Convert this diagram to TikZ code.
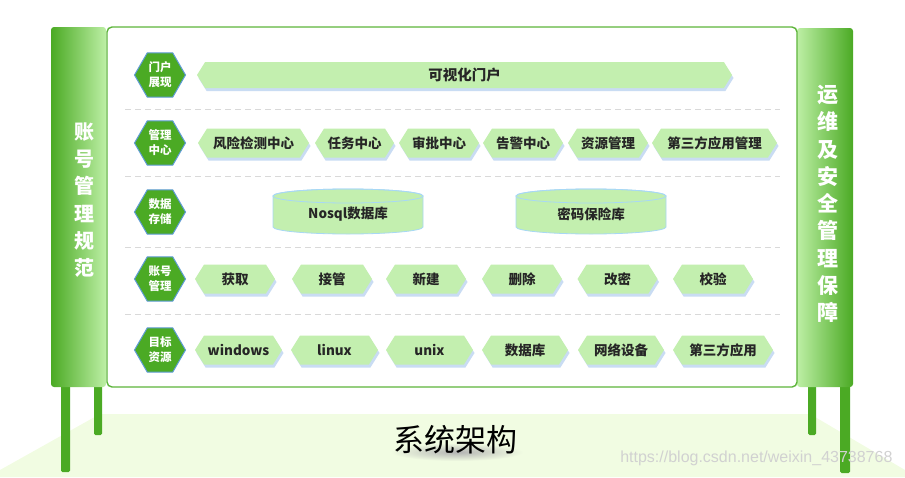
\documentclass[tikz,border=0pt]{standalone}
\usepackage{fontspec}
\setmainfont{Noto Sans CJK SC}
\newfontfamily\urlfont{Liberation Sans}
\usetikzlibrary{shapes.geometric,shapes.symbols,shadows}
\definecolor{leafgreen}{HTML}{4BAA24}
\definecolor{palegreen}{HTML}{C3EFAF}
\definecolor{lightgreen}{HTML}{BDEFA5}
\definecolor{hexblue}{HTML}{5E9BD6}
\definecolor{shadowblue}{HTML}{C9DCF3}
\definecolor{floorgreen}{HTML}{F1FCE2}
\definecolor{rulegray}{HTML}{D9D9D9}
\definecolor{cylblue}{HTML}{A8D8F5}
\definecolor{boardgreen}{HTML}{5DB53A}
% storage drum: (x,y) name text
\def\drum(#1,#2)#3#4{%
  \filldraw[fill=palegreen, draw=cylblue, line width=0.8pt] (#1-75,#2+16) -- (#1-75,#2-15)
    arc[start angle=180, end angle=360, x radius=75, y radius=7] -- (#1+75,#2+16)
    arc[start angle=0, end angle=180, x radius=75, y radius=7] -- cycle;
  \draw[cylblue, line width=0.8pt] (#1,#2+16) ellipse [x radius=75, y radius=7];
  \node[drumtext] (#3) at (#1,#2-2) {#4};}

\begin{document}
\begin{tikzpicture}[x=1pt, y=1pt,
    layer/.style={regular polygon, regular polygon sides=6, minimum size=51pt, inner sep=0pt,
      fill=leafgreen, draw=hexblue, line width=1pt, text=white, align=center,
      font=\fontsize{11.5}{15}\selectfont\bfseries},
    tag/.style={signal, signal to=west and east, signal pointer angle=116, minimum height=29pt,
      inner sep=0pt, fill=palegreen, text=black!85, font=\fontsize{13.5}{15}\selectfont\bfseries,
      drop shadow={fill=shadowblue, shadow xshift=1.5pt, shadow yshift=-3pt, opacity=1}},
    drumtext/.style={text=black!85, font=\fontsize{13.5}{15}\selectfont\bfseries},
    rowline/.style={rulegray, dash pattern=on 6pt off 4pt, line width=0.8pt},
    sidetext/.style={text=white, align=center}]
    %%%%% START %%%%%
    \useasboundingbox (0,0) rectangle (905,-477);

    % floor
    \fill[floorgreen] (0,-470) -- (100,-414) -- (810,-414) -- (905,-470) -- (905,-477) -- (0,-477) -- cycle;

    % legs
    \fill[leafgreen, rounded corners=1.5pt] (61,-380) rectangle (70,-472);
    \fill[leafgreen, rounded corners=1.5pt] (94,-380) rectangle (102,-435);
    \fill[leafgreen, rounded corners=1.5pt] (808,-380) rectangle (816,-435);
    \fill[leafgreen, rounded corners=1.5pt] (840,-380) rectangle (850,-473);

    % side panels
    \shade[left color=leafgreen, right color=lightgreen, rounded corners=3pt] (51,-387) rectangle (106,-27);
    \shade[left color=lightgreen, right color=leafgreen, rounded corners=3pt] (797,-387) rectangle (853,-28);
    \node[sidetext, font=\fontsize{20}{27.2}\selectfont\bfseries] (acct) at (84,-200) {账\\号\\管\\理\\规\\范};
    \node[sidetext, font=\fontsize{21}{27.25}\selectfont\bfseries] (ops) at (828,-204) {运\\维\\及\\安\\全\\管\\理\\保\\障};

    % board
    \draw[boardgreen, line width=1.4pt, fill=white, rounded corners=5pt] (107,-27) rectangle (797,-387);

    \draw[rowline] (125,-109) -- (780,-109);
    \draw[rowline] (125,-176) -- (780,-176);
    \draw[rowline] (125,-247) -- (780,-247);
    \draw[rowline] (125,-314) -- (780,-314);

    % row labels
    \node[layer] (portal) at (160,-75) {门户\\展现};
    \node[layer] (mgmt) at (160,-143) {管理\\中心};
    \node[layer] (store) at (160,-212) {数据\\存储};
    \node[layer] (acctrow) at (160,-279) {账号\\管理};
    \node[layer] (target) at (160,-350) {目标\\资源};

    % portal
    \node[tag, minimum height=26pt, minimum width=535pt, font=\fontsize{14.5}{16}\selectfont\bfseries] (visual) at (464.5,-75) {可视化门户};

    % management
    \node[tag, minimum width=111pt] (risk) at (253.5,-143) {风险检测中心};
    \node[tag, minimum width=79pt] (task) at (354.5,-143) {任务中心};
    \node[tag, minimum width=80pt] (audit) at (439,-143) {审批中心};
    \node[tag, minimum width=80pt] (alarm) at (523,-143) {告警中心};
    \node[tag, minimum width=80pt] (res) at (608,-143) {资源管理};
    \node[tag, minimum width=125pt] (thirdmgmt) at (714.5,-143) {第三方应用管理};

    % storage
    \drum(348,-212){nosql}{Nosql数据库}
    \drum(591,-212){vault}{密码保险库}

    % account actions
    \node[tag, minimum width=80pt] (fetch) at (235,-279) {获取};
    \node[tag, minimum width=80pt] (takeover) at (332,-279) {接管};
    \node[tag, minimum width=80pt] (create) at (426,-279) {新建};
    \node[tag, minimum width=80pt] (remove) at (522,-279) {删除};
    \node[tag, minimum width=80pt] (passwd) at (617.5,-279) {改密};
    \node[tag, minimum width=80pt] (verify) at (713,-279) {校验};

    % targets
    \node[tag, minimum width=87pt] (win) at (238.5,-350) {windows};
    \node[tag, minimum width=87pt] (lnx) at (334.5,-350) {linux};
    \node[tag, minimum width=87pt] (unx) at (429.5,-350) {unix};
    \node[tag, minimum width=86pt] (db) at (525,-350) {数据库};
    \node[tag, minimum width=86pt] (net) at (621,-350) {网络设备};
    \node[tag, minimum width=100pt] (thirdapp) at (723,-350) {第三方应用};

    % title
    \shade[inner color=black!30, outer color=floorgreen] (457,-452) ellipse [x radius=66, y radius=9];
    \node[font=\fontsize{31}{33}\selectfont] (title) at (455,-440) {系统架构};

    \node[font=\urlfont\fontsize{16}{18}\selectfont, text=black!18, anchor=east] (mark) at (896,-458) {https://blog.csdn.net/weixin\_43738768};
    %%%%% END %%%%%
\end{tikzpicture}
\end{document}
